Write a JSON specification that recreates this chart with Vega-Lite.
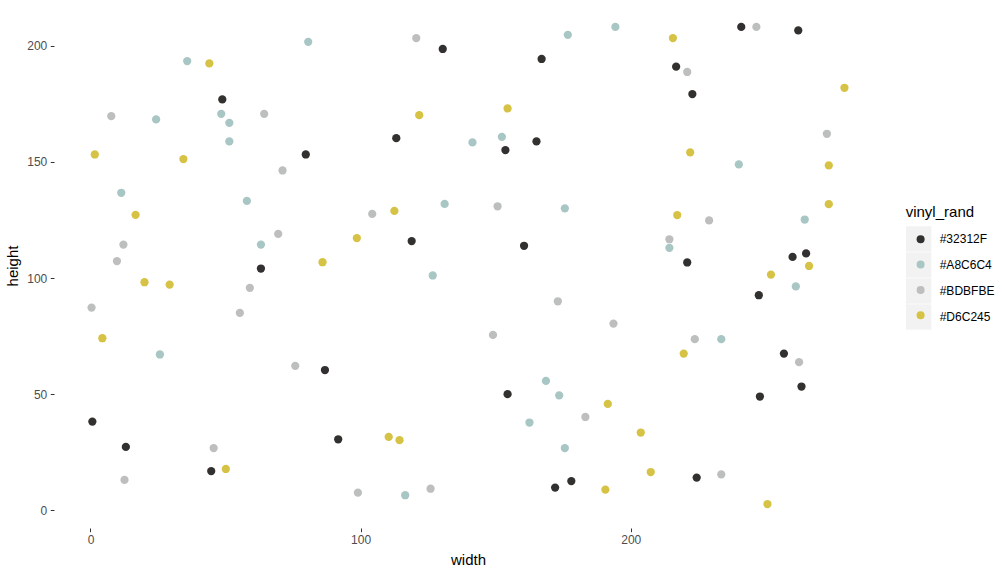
{
  "$schema": "https://vega.github.io/schema/vega-lite/v6.json",
  "autosize": {"type": "none"},
  "width": 828,
  "height": 525,
  "padding": {"left": 54, "top": 3, "right": 123, "bottom": 42},
  "background": "white",
  "config": {
    "view": {"stroke": null},
    "font": "Liberation Sans",
    "axis": {
      "domain": false,
      "grid": false,
      "ticks": true,
      "tickColor": "#333333",
      "tickSize": 3.7,
      "tickWidth": 1,
      "labelColor": "#4D4D4D",
      "labelFontSize": 12,
      "labelFont": "Liberation Sans",
      "titleFont": "Liberation Sans",
      "titleFontSize": 15,
      "titleFontWeight": "normal",
      "titleColor": "#000000"
    },
    "legend": {"labelFont": "Liberation Sans", "titleFont": "Liberation Sans"}
  },
  "data": {
    "values": [
      {"width": 48.8, "height": 176.9, "vinyl_rand": "#32312F"},
      {"width": 79.7, "height": 153.2, "vinyl_rand": "#32312F"},
      {"width": 63.1, "height": 104.1, "vinyl_rand": "#32312F"},
      {"width": 86.8, "height": 60.4, "vinyl_rand": "#32312F"},
      {"width": 0.7, "height": 38.2, "vinyl_rand": "#32312F"},
      {"width": 13.1, "height": 27.3, "vinyl_rand": "#32312F"},
      {"width": 44.7, "height": 16.9, "vinyl_rand": "#32312F"},
      {"width": 130.4, "height": 198.6, "vinyl_rand": "#32312F"},
      {"width": 167.0, "height": 194.3, "vinyl_rand": "#32312F"},
      {"width": 113.2, "height": 160.2, "vinyl_rand": "#32312F"},
      {"width": 153.6, "height": 155.1, "vinyl_rand": "#32312F"},
      {"width": 165.1, "height": 158.8, "vinyl_rand": "#32312F"},
      {"width": 118.9, "height": 115.9, "vinyl_rand": "#32312F"},
      {"width": 160.5, "height": 113.9, "vinyl_rand": "#32312F"},
      {"width": 91.7, "height": 30.6, "vinyl_rand": "#32312F"},
      {"width": 154.4, "height": 50.0, "vinyl_rand": "#32312F"},
      {"width": 172.0, "height": 9.8, "vinyl_rand": "#32312F"},
      {"width": 178.0, "height": 12.6, "vinyl_rand": "#32312F"},
      {"width": 240.9, "height": 208.1, "vinyl_rand": "#32312F"},
      {"width": 262.0, "height": 206.6, "vinyl_rand": "#32312F"},
      {"width": 216.8, "height": 191.0, "vinyl_rand": "#32312F"},
      {"width": 222.8, "height": 179.2, "vinyl_rand": "#32312F"},
      {"width": 220.9, "height": 106.7, "vinyl_rand": "#32312F"},
      {"width": 259.9, "height": 109.1, "vinyl_rand": "#32312F"},
      {"width": 264.9, "height": 110.6, "vinyl_rand": "#32312F"},
      {"width": 247.4, "height": 92.6, "vinyl_rand": "#32312F"},
      {"width": 256.7, "height": 67.5, "vinyl_rand": "#32312F"},
      {"width": 263.2, "height": 53.3, "vinyl_rand": "#32312F"},
      {"width": 247.8, "height": 49.0, "vinyl_rand": "#32312F"},
      {"width": 224.4, "height": 14.1, "vinyl_rand": "#32312F"},
      {"width": 80.6, "height": 201.7, "vinyl_rand": "#A8C6C4"},
      {"width": 35.8, "height": 193.4, "vinyl_rand": "#A8C6C4"},
      {"width": 24.3, "height": 168.3, "vinyl_rand": "#A8C6C4"},
      {"width": 48.4, "height": 170.7, "vinyl_rand": "#A8C6C4"},
      {"width": 51.4, "height": 166.8, "vinyl_rand": "#A8C6C4"},
      {"width": 51.4, "height": 158.8, "vinyl_rand": "#A8C6C4"},
      {"width": 11.4, "height": 136.7, "vinyl_rand": "#A8C6C4"},
      {"width": 57.9, "height": 133.2, "vinyl_rand": "#A8C6C4"},
      {"width": 63.1, "height": 114.4, "vinyl_rand": "#A8C6C4"},
      {"width": 25.7, "height": 67.1, "vinyl_rand": "#A8C6C4"},
      {"width": 176.7, "height": 204.7, "vinyl_rand": "#A8C6C4"},
      {"width": 141.4, "height": 158.4, "vinyl_rand": "#A8C6C4"},
      {"width": 152.3, "height": 160.8, "vinyl_rand": "#A8C6C4"},
      {"width": 131.1, "height": 131.9, "vinyl_rand": "#A8C6C4"},
      {"width": 175.6, "height": 130.0, "vinyl_rand": "#A8C6C4"},
      {"width": 126.7, "height": 101.1, "vinyl_rand": "#A8C6C4"},
      {"width": 168.6, "height": 55.7, "vinyl_rand": "#A8C6C4"},
      {"width": 173.5, "height": 49.5, "vinyl_rand": "#A8C6C4"},
      {"width": 162.5, "height": 37.8, "vinyl_rand": "#A8C6C4"},
      {"width": 175.6, "height": 26.8, "vinyl_rand": "#A8C6C4"},
      {"width": 116.5, "height": 6.5, "vinyl_rand": "#A8C6C4"},
      {"width": 194.3, "height": 208.1, "vinyl_rand": "#A8C6C4"},
      {"width": 240.0, "height": 148.9, "vinyl_rand": "#A8C6C4"},
      {"width": 264.4, "height": 125.2, "vinyl_rand": "#A8C6C4"},
      {"width": 214.3, "height": 113.0, "vinyl_rand": "#A8C6C4"},
      {"width": 261.1, "height": 96.4, "vinyl_rand": "#A8C6C4"},
      {"width": 233.5, "height": 73.7, "vinyl_rand": "#A8C6C4"},
      {"width": 7.7, "height": 169.7, "vinyl_rand": "#BDBFBE"},
      {"width": 64.3, "height": 170.7, "vinyl_rand": "#BDBFBE"},
      {"width": 71.1, "height": 146.3, "vinyl_rand": "#BDBFBE"},
      {"width": 69.5, "height": 119.0, "vinyl_rand": "#BDBFBE"},
      {"width": 12.2, "height": 114.4, "vinyl_rand": "#BDBFBE"},
      {"width": 9.8, "height": 107.3, "vinyl_rand": "#BDBFBE"},
      {"width": 59.0, "height": 95.8, "vinyl_rand": "#BDBFBE"},
      {"width": 0.4, "height": 87.3, "vinyl_rand": "#BDBFBE"},
      {"width": 55.3, "height": 85.0, "vinyl_rand": "#BDBFBE"},
      {"width": 75.8, "height": 62.2, "vinyl_rand": "#BDBFBE"},
      {"width": 45.6, "height": 26.8, "vinyl_rand": "#BDBFBE"},
      {"width": 12.6, "height": 13.1, "vinyl_rand": "#BDBFBE"},
      {"width": 120.6, "height": 203.3, "vinyl_rand": "#BDBFBE"},
      {"width": 104.3, "height": 127.6, "vinyl_rand": "#BDBFBE"},
      {"width": 150.7, "height": 130.9, "vinyl_rand": "#BDBFBE"},
      {"width": 173.0, "height": 90.0, "vinyl_rand": "#BDBFBE"},
      {"width": 149.0, "height": 75.5, "vinyl_rand": "#BDBFBE"},
      {"width": 193.6, "height": 80.4, "vinyl_rand": "#BDBFBE"},
      {"width": 183.2, "height": 40.2, "vinyl_rand": "#BDBFBE"},
      {"width": 99.0, "height": 7.6, "vinyl_rand": "#BDBFBE"},
      {"width": 125.9, "height": 9.3, "vinyl_rand": "#BDBFBE"},
      {"width": 246.5, "height": 208.1, "vinyl_rand": "#BDBFBE"},
      {"width": 220.9, "height": 188.7, "vinyl_rand": "#BDBFBE"},
      {"width": 272.6, "height": 162.1, "vinyl_rand": "#BDBFBE"},
      {"width": 229.0, "height": 124.8, "vinyl_rand": "#BDBFBE"},
      {"width": 214.3, "height": 116.7, "vinyl_rand": "#BDBFBE"},
      {"width": 223.7, "height": 73.7, "vinyl_rand": "#BDBFBE"},
      {"width": 262.3, "height": 63.8, "vinyl_rand": "#BDBFBE"},
      {"width": 233.5, "height": 15.5, "vinyl_rand": "#BDBFBE"},
      {"width": 44.0, "height": 192.4, "vinyl_rand": "#D6C245"},
      {"width": 1.6, "height": 153.2, "vinyl_rand": "#D6C245"},
      {"width": 34.4, "height": 151.2, "vinyl_rand": "#D6C245"},
      {"width": 16.7, "height": 127.2, "vinyl_rand": "#D6C245"},
      {"width": 85.9, "height": 106.8, "vinyl_rand": "#D6C245"},
      {"width": 20.0, "height": 98.2, "vinyl_rand": "#D6C245"},
      {"width": 29.3, "height": 97.2, "vinyl_rand": "#D6C245"},
      {"width": 4.4, "height": 74.1, "vinyl_rand": "#D6C245"},
      {"width": 50.1, "height": 17.8, "vinyl_rand": "#D6C245"},
      {"width": 154.4, "height": 173.0, "vinyl_rand": "#D6C245"},
      {"width": 121.7, "height": 170.1, "vinyl_rand": "#D6C245"},
      {"width": 112.5, "height": 128.9, "vinyl_rand": "#D6C245"},
      {"width": 98.6, "height": 117.2, "vinyl_rand": "#D6C245"},
      {"width": 110.4, "height": 31.6, "vinyl_rand": "#D6C245"},
      {"width": 114.4, "height": 30.2, "vinyl_rand": "#D6C245"},
      {"width": 191.5, "height": 45.8, "vinyl_rand": "#D6C245"},
      {"width": 190.6, "height": 8.9, "vinyl_rand": "#D6C245"},
      {"width": 215.6, "height": 203.3, "vinyl_rand": "#D6C245"},
      {"width": 279.1, "height": 181.9, "vinyl_rand": "#D6C245"},
      {"width": 222.0, "height": 154.1, "vinyl_rand": "#D6C245"},
      {"width": 273.3, "height": 148.5, "vinyl_rand": "#D6C245"},
      {"width": 273.3, "height": 131.8, "vinyl_rand": "#D6C245"},
      {"width": 217.2, "height": 127.1, "vinyl_rand": "#D6C245"},
      {"width": 266.0, "height": 105.2, "vinyl_rand": "#D6C245"},
      {"width": 251.9, "height": 101.5, "vinyl_rand": "#D6C245"},
      {"width": 219.6, "height": 67.5, "vinyl_rand": "#D6C245"},
      {"width": 203.7, "height": 33.5, "vinyl_rand": "#D6C245"},
      {"width": 207.4, "height": 16.5, "vinyl_rand": "#D6C245"},
      {"width": 250.6, "height": 2.7, "vinyl_rand": "#D6C245"}
    ]
  },
  "mark": {"type": "point", "filled": true, "size": 68, "strokeWidth": 0},
  "encoding": {
    "x": {
      "field": "width", "type": "quantitative",
      "scale": {"domain": [-13.5, 293], "nice": false, "zero": false},
      "axis": {"values": [0, 100, 200], "labelPadding": 3, "titlePadding": 7, "title": "width"}
    },
    "y": {
      "field": "height", "type": "quantitative",
      "scale": {"domain": [-7.6, 218.4], "nice": false, "zero": false},
      "axis": {"values": [0, 50, 100, 150, 200], "labelPadding": 3.5, "titlePadding": 6, "title": "height"}
    },
    "color": {
      "field": "vinyl_rand", "type": "nominal",
      "scale": {"range": ["#32312F", "#A8C6C4", "#BDBFBE", "#D6C245"]},
      "legend": {
        "orient": "none", "legendX": 860.6, "legendY": 230.3,
        "title": null, "padding": 0, "zindex": 1,
        "symbolType": "circle", "symbolSize": 64, "symbolStrokeWidth": 0, "symbolOpacity": 1,
        "labelExpr": "''", "labelFontSize": 12, "rowPadding": 13.3
      }
    },
    "opacity": {
      "field": "vinyl_rand", "type": "ordinal",
      "scale": {"domain": ["#32312F", "#A8C6C4", "#BDBFBE", "#D6C245"], "range": [1, 1]},
      "legend": {
        "orient": "none", "legendX": 851.7, "legendY": 202,
        "title": "vinyl_rand", "titleFontSize": 15, "titleFontWeight": "normal", "titleColor": "#000000", "titlePadding": 6,
        "padding": 0, "zindex": 0,
        "symbolType": "square", "symbolSize": 640, "symbolStrokeWidth": 0, "symbolFillColor": "#F2F2F2",
        "labelFontSize": 12, "labelColor": "#000000", "labelOffset": 8, "rowPadding": 0,
        "encode": {"symbols": {"update": {"fill": {"value": "#F2F2F2"}, "stroke": {"value": "transparent"}, "opacity": {"value": 1}}}}
      }
    }
  }
}
